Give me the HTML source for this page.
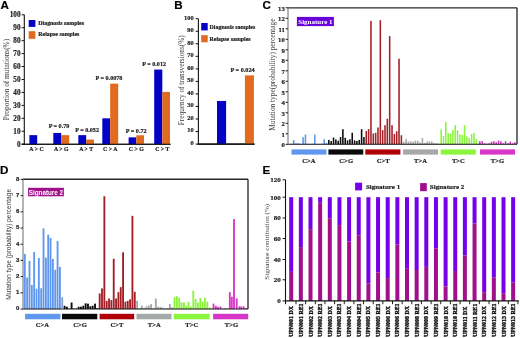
<!DOCTYPE html>
<html><head><meta charset="utf-8"><title>Figure</title>
<style>
html,body{margin:0;padding:0;background:#fff;}
body{width:520px;height:338px;overflow:hidden;font-family:"Liberation Serif", serif;}
svg{display:block;will-change:transform;filter:blur(0.35px);}
text{}
</style></head>
<body>
<svg width="520" height="338" viewBox="0 0 520 338" shape-rendering="auto">
<rect x="0" y="0" width="520" height="338" fill="#fff"/>
<text x="0.6" y="9.1" font-family='"Liberation Sans", sans-serif' font-size="11.6" font-weight="bold" text-anchor="start" fill="#000" stroke="#000" stroke-width="0.2">A</text>
<text x="174.3" y="9.4" font-family='"Liberation Sans", sans-serif' font-size="11.6" font-weight="bold" text-anchor="start" fill="#000" stroke="#000" stroke-width="0.2">B</text>
<text x="262.4" y="9.2" font-family='"Liberation Sans", sans-serif' font-size="11.6" font-weight="bold" text-anchor="start" fill="#000" stroke="#000" stroke-width="0.2">C</text>
<text x="-0.1" y="173.7" font-family='"Liberation Sans", sans-serif' font-size="11.6" font-weight="bold" text-anchor="start" fill="#000" stroke="#000" stroke-width="0.2">D</text>
<text x="262.4" y="173.7" font-family='"Liberation Sans", sans-serif' font-size="11.6" font-weight="bold" text-anchor="start" fill="#000" stroke="#000" stroke-width="0.2">E</text>
<line x1="24.3" y1="14.8" x2="24.3" y2="144.7" stroke="#111" stroke-width="1.1"/>
<line x1="21.8" y1="144.2" x2="170.5" y2="144.2" stroke="#111" stroke-width="1.1"/>
<line x1="21.6" y1="144.2" x2="24.3" y2="144.2" stroke="#111" stroke-width="1"/>
<text x="20.5" y="146.8" font-family='"Liberation Serif", serif' font-size="7.2" font-weight="bold" text-anchor="end" fill="#222" stroke="#222" stroke-width="0.2">0</text>
<line x1="21.6" y1="131.26" x2="24.3" y2="131.26" stroke="#111" stroke-width="1"/>
<text x="20.5" y="133.86" font-family='"Liberation Serif", serif' font-size="7.2" font-weight="bold" text-anchor="end" fill="#222" stroke="#222" stroke-width="0.2">10</text>
<line x1="21.6" y1="118.32" x2="24.3" y2="118.32" stroke="#111" stroke-width="1"/>
<text x="20.5" y="120.92" font-family='"Liberation Serif", serif' font-size="7.2" font-weight="bold" text-anchor="end" fill="#222" stroke="#222" stroke-width="0.2">20</text>
<line x1="21.6" y1="105.38" x2="24.3" y2="105.38" stroke="#111" stroke-width="1"/>
<text x="20.5" y="107.98" font-family='"Liberation Serif", serif' font-size="7.2" font-weight="bold" text-anchor="end" fill="#222" stroke="#222" stroke-width="0.2">30</text>
<line x1="21.6" y1="92.44" x2="24.3" y2="92.44" stroke="#111" stroke-width="1"/>
<text x="20.5" y="95.04" font-family='"Liberation Serif", serif' font-size="7.2" font-weight="bold" text-anchor="end" fill="#222" stroke="#222" stroke-width="0.2">40</text>
<line x1="21.6" y1="79.5" x2="24.3" y2="79.5" stroke="#111" stroke-width="1"/>
<text x="20.5" y="82.1" font-family='"Liberation Serif", serif' font-size="7.2" font-weight="bold" text-anchor="end" fill="#222" stroke="#222" stroke-width="0.2">50</text>
<line x1="21.6" y1="66.56" x2="24.3" y2="66.56" stroke="#111" stroke-width="1"/>
<text x="20.5" y="69.16" font-family='"Liberation Serif", serif' font-size="7.2" font-weight="bold" text-anchor="end" fill="#222" stroke="#222" stroke-width="0.2">60</text>
<line x1="21.6" y1="53.62" x2="24.3" y2="53.62" stroke="#111" stroke-width="1"/>
<text x="20.5" y="56.22" font-family='"Liberation Serif", serif' font-size="7.2" font-weight="bold" text-anchor="end" fill="#222" stroke="#222" stroke-width="0.2">70</text>
<line x1="21.6" y1="40.68" x2="24.3" y2="40.68" stroke="#111" stroke-width="1"/>
<text x="20.5" y="43.28" font-family='"Liberation Serif", serif' font-size="7.2" font-weight="bold" text-anchor="end" fill="#222" stroke="#222" stroke-width="0.2">80</text>
<line x1="21.6" y1="27.74" x2="24.3" y2="27.74" stroke="#111" stroke-width="1"/>
<text x="20.5" y="30.34" font-family='"Liberation Serif", serif' font-size="7.2" font-weight="bold" text-anchor="end" fill="#222" stroke="#222" stroke-width="0.2">90</text>
<line x1="21.6" y1="14.8" x2="24.3" y2="14.8" stroke="#111" stroke-width="1"/>
<text x="20.5" y="17.4" font-family='"Liberation Serif", serif' font-size="7.2" font-weight="bold" text-anchor="end" fill="#222" stroke="#222" stroke-width="0.2">100</text>
<text x="8.5" y="79.5" font-family='"Liberation Serif", serif' font-size="7.37" font-weight="normal" text-anchor="middle" fill="#3c3c3c" transform="rotate(-90 8.5 79.5)">Proportion of mutations(%)</text>
<rect x="29.4" y="135.14" width="7.8" height="9.06" fill="#0303c6"/>
<text x="36.5" y="150.9" font-family='"Liberation Serif", serif' font-size="5.8" font-weight="bold" text-anchor="middle" fill="#222" stroke="#222" stroke-width="0.2">A &gt; C</text>
<rect x="53.3" y="132.94" width="7.9" height="11.26" fill="#0303c6"/>
<rect x="61.2" y="135.14" width="8" height="9.06" fill="#e06a1e"/>
<text x="61.2" y="150.9" font-family='"Liberation Serif", serif' font-size="5.8" font-weight="bold" text-anchor="middle" fill="#222" stroke="#222" stroke-width="0.2">A &gt; G</text>
<rect x="78.3" y="135.14" width="7.9" height="9.06" fill="#0303c6"/>
<rect x="86.2" y="139.54" width="7.8" height="4.66" fill="#e06a1e"/>
<text x="86.2" y="150.9" font-family='"Liberation Serif", serif' font-size="5.8" font-weight="bold" text-anchor="middle" fill="#222" stroke="#222" stroke-width="0.2">A &gt; T</text>
<rect x="102.3" y="118.32" width="7.9" height="25.88" fill="#0303c6"/>
<rect x="110.2" y="83.64" width="8" height="60.56" fill="#e06a1e"/>
<text x="110.2" y="150.9" font-family='"Liberation Serif", serif' font-size="5.8" font-weight="bold" text-anchor="middle" fill="#222" stroke="#222" stroke-width="0.2">C &gt; A</text>
<rect x="128.6" y="137.34" width="7.7" height="6.86" fill="#0303c6"/>
<rect x="136.3" y="135.27" width="7.7" height="8.93" fill="#e06a1e"/>
<text x="136.3" y="150.9" font-family='"Liberation Serif", serif' font-size="5.8" font-weight="bold" text-anchor="middle" fill="#222" stroke="#222" stroke-width="0.2">C &gt; G</text>
<rect x="154.2" y="69.54" width="8.1" height="74.66" fill="#0303c6"/>
<rect x="162.3" y="91.92" width="7.7" height="52.28" fill="#e06a1e"/>
<text x="162.3" y="150.9" font-family='"Liberation Serif", serif' font-size="5.8" font-weight="bold" text-anchor="middle" fill="#222" stroke="#222" stroke-width="0.2">C &gt; T</text>
<line x1="21.8" y1="144.2" x2="170.5" y2="144.2" stroke="#111" stroke-width="1.1"/>
<text x="59" y="127.85" font-family='"Liberation Serif", serif' font-size="6.15" font-weight="bold" text-anchor="middle" fill="#222" stroke="#222" stroke-width="0.2">P = 0.79</text>
<text x="87.1" y="131.95" font-family='"Liberation Serif", serif' font-size="6.15" font-weight="bold" text-anchor="middle" fill="#222" stroke="#222" stroke-width="0.2">P = 0.052</text>
<text x="109" y="79.55" font-family='"Liberation Serif", serif' font-size="6.15" font-weight="bold" text-anchor="middle" fill="#222" stroke="#222" stroke-width="0.2">P = 0.0078</text>
<text x="136.2" y="132.55" font-family='"Liberation Serif", serif' font-size="6.15" font-weight="bold" text-anchor="middle" fill="#222" stroke="#222" stroke-width="0.2">P = 0.72</text>
<text x="154.2" y="66.35" font-family='"Liberation Serif", serif' font-size="6.15" font-weight="bold" text-anchor="middle" fill="#222" stroke="#222" stroke-width="0.2">P = 0.012</text>
<rect x="28.7" y="20" width="6.7" height="6.9" fill="#0303c6"/>
<rect x="28.7" y="31.2" width="6.7" height="7.6" fill="#e06a1e"/>
<text x="38.3" y="25.1" font-family='"Liberation Serif", serif' font-size="5.9" font-weight="bold" text-anchor="start" fill="#222" stroke="#222" stroke-width="0.2">Diagnosis samples</text>
<text x="38.3" y="36.1" font-family='"Liberation Serif", serif' font-size="5.9" font-weight="bold" text-anchor="start" fill="#222" stroke="#222" stroke-width="0.2">Relapse samples</text>
<line x1="198.4" y1="18.7" x2="198.4" y2="144.6" stroke="#111" stroke-width="1.1"/>
<line x1="197.9" y1="144.1" x2="254.5" y2="144.1" stroke="#111" stroke-width="1.1"/>
<line x1="195.6" y1="144.1" x2="198.4" y2="144.1" stroke="#111" stroke-width="1"/>
<text x="193.6" y="145" font-family='"Liberation Serif", serif' font-size="6.4" font-weight="bold" text-anchor="end" fill="#222" stroke="#222" stroke-width="0.2">0</text>
<line x1="195.6" y1="131.56" x2="198.4" y2="131.56" stroke="#111" stroke-width="1"/>
<text x="193.6" y="132.46" font-family='"Liberation Serif", serif' font-size="6.4" font-weight="bold" text-anchor="end" fill="#222" stroke="#222" stroke-width="0.2">10</text>
<line x1="195.6" y1="119.02" x2="198.4" y2="119.02" stroke="#111" stroke-width="1"/>
<text x="193.6" y="119.92" font-family='"Liberation Serif", serif' font-size="6.4" font-weight="bold" text-anchor="end" fill="#222" stroke="#222" stroke-width="0.2">20</text>
<line x1="195.6" y1="106.48" x2="198.4" y2="106.48" stroke="#111" stroke-width="1"/>
<text x="193.6" y="107.38" font-family='"Liberation Serif", serif' font-size="6.4" font-weight="bold" text-anchor="end" fill="#222" stroke="#222" stroke-width="0.2">30</text>
<line x1="195.6" y1="93.94" x2="198.4" y2="93.94" stroke="#111" stroke-width="1"/>
<text x="193.6" y="94.84" font-family='"Liberation Serif", serif' font-size="6.4" font-weight="bold" text-anchor="end" fill="#222" stroke="#222" stroke-width="0.2">40</text>
<line x1="195.6" y1="81.4" x2="198.4" y2="81.4" stroke="#111" stroke-width="1"/>
<text x="193.6" y="82.3" font-family='"Liberation Serif", serif' font-size="6.4" font-weight="bold" text-anchor="end" fill="#222" stroke="#222" stroke-width="0.2">50</text>
<line x1="195.6" y1="68.86" x2="198.4" y2="68.86" stroke="#111" stroke-width="1"/>
<text x="193.6" y="69.76" font-family='"Liberation Serif", serif' font-size="6.4" font-weight="bold" text-anchor="end" fill="#222" stroke="#222" stroke-width="0.2">60</text>
<line x1="195.6" y1="56.32" x2="198.4" y2="56.32" stroke="#111" stroke-width="1"/>
<text x="193.6" y="57.22" font-family='"Liberation Serif", serif' font-size="6.4" font-weight="bold" text-anchor="end" fill="#222" stroke="#222" stroke-width="0.2">70</text>
<line x1="195.6" y1="43.78" x2="198.4" y2="43.78" stroke="#111" stroke-width="1"/>
<text x="193.6" y="44.68" font-family='"Liberation Serif", serif' font-size="6.4" font-weight="bold" text-anchor="end" fill="#222" stroke="#222" stroke-width="0.2">80</text>
<line x1="195.6" y1="31.24" x2="198.4" y2="31.24" stroke="#111" stroke-width="1"/>
<text x="193.6" y="32.14" font-family='"Liberation Serif", serif' font-size="6.4" font-weight="bold" text-anchor="end" fill="#222" stroke="#222" stroke-width="0.2">90</text>
<line x1="195.6" y1="18.7" x2="198.4" y2="18.7" stroke="#111" stroke-width="1"/>
<text x="193.6" y="19.6" font-family='"Liberation Serif", serif' font-size="6.4" font-weight="bold" text-anchor="end" fill="#222" stroke="#222" stroke-width="0.2">100</text>
<text x="184.4" y="80.2" font-family='"Liberation Serif", serif' font-size="7.3" font-weight="normal" text-anchor="middle" fill="#3c3c3c" transform="rotate(-90 184.4 80.2)">Frequency of transversions(%)</text>
<rect x="217" y="100.96" width="9.1" height="43.14" fill="#0303c6"/>
<rect x="244.9" y="75.38" width="9" height="68.72" fill="#e06a1e"/>
<line x1="197.9" y1="144.1" x2="254.5" y2="144.1" stroke="#111" stroke-width="1.1"/>
<text x="242.6" y="72" font-family='"Liberation Serif", serif' font-size="6.2" font-weight="bold" text-anchor="middle" fill="#222" stroke="#222" stroke-width="0.2">P = 0.024</text>
<rect x="201.2" y="23" width="6.5" height="7.4" fill="#0303c6"/>
<rect x="201.2" y="35.2" width="6.5" height="7.1" fill="#e06a1e"/>
<text x="209.6" y="28.6" font-family='"Liberation Serif", serif' font-size="5.9" font-weight="bold" text-anchor="start" fill="#222" stroke="#222" stroke-width="0.2">Diagnosis samples</text>
<text x="209.6" y="40.6" font-family='"Liberation Serif", serif' font-size="5.9" font-weight="bold" text-anchor="start" fill="#222" stroke="#222" stroke-width="0.2">Relapse samples</text>
<rect x="290.62" y="143.78" width="1.55" height="0.53" fill="#5f97ee"/>
<rect x="292.96" y="140.1" width="1.55" height="4.2" fill="#5f97ee"/>
<rect x="295.31" y="143.25" width="1.55" height="1.05" fill="#5f97ee"/>
<rect x="297.64" y="143.25" width="1.55" height="1.05" fill="#5f97ee"/>
<rect x="299.99" y="143.99" width="1.55" height="0.31" fill="#5f97ee"/>
<rect x="302.32" y="137.16" width="1.55" height="7.14" fill="#5f97ee"/>
<rect x="304.67" y="134.54" width="1.55" height="9.76" fill="#5f97ee"/>
<rect x="307" y="143.78" width="1.55" height="0.53" fill="#5f97ee"/>
<rect x="309.35" y="143.99" width="1.55" height="0.31" fill="#5f97ee"/>
<rect x="311.69" y="143.78" width="1.55" height="0.53" fill="#5f97ee"/>
<rect x="314.02" y="134.54" width="1.55" height="9.76" fill="#5f97ee"/>
<rect x="316.37" y="143.99" width="1.55" height="0.31" fill="#5f97ee"/>
<rect x="318.7" y="143.99" width="1.55" height="0.31" fill="#5f97ee"/>
<rect x="321.05" y="143.78" width="1.55" height="0.53" fill="#5f97ee"/>
<rect x="323.38" y="139.26" width="1.55" height="5.04" fill="#5f97ee"/>
<rect x="325.73" y="143.04" width="1.55" height="1.26" fill="#5f97ee"/>
<rect x="328.06" y="139.89" width="1.55" height="4.41" fill="#0a0a0a"/>
<rect x="330.4" y="141.15" width="1.55" height="3.15" fill="#0a0a0a"/>
<rect x="332.75" y="137.58" width="1.55" height="6.72" fill="#0a0a0a"/>
<rect x="335.08" y="139.47" width="1.55" height="4.83" fill="#0a0a0a"/>
<rect x="337.43" y="140.73" width="1.55" height="3.57" fill="#0a0a0a"/>
<rect x="339.76" y="137.06" width="1.55" height="7.25" fill="#0a0a0a"/>
<rect x="342.11" y="129.18" width="1.55" height="15.12" fill="#0a0a0a"/>
<rect x="344.44" y="137.79" width="1.55" height="6.51" fill="#0a0a0a"/>
<rect x="346.78" y="140.31" width="1.55" height="3.99" fill="#0a0a0a"/>
<rect x="349.12" y="139.26" width="1.55" height="5.04" fill="#0a0a0a"/>
<rect x="351.46" y="132.75" width="1.55" height="11.55" fill="#0a0a0a"/>
<rect x="353.81" y="140.31" width="1.55" height="3.99" fill="#0a0a0a"/>
<rect x="356.14" y="140.94" width="1.55" height="3.36" fill="#0a0a0a"/>
<rect x="358.49" y="139.89" width="1.55" height="4.41" fill="#0a0a0a"/>
<rect x="360.82" y="129.18" width="1.55" height="15.12" fill="#0a0a0a"/>
<rect x="363.16" y="137.06" width="1.55" height="7.25" fill="#0a0a0a"/>
<rect x="365.5" y="130.97" width="1.55" height="13.34" fill="#a41e26"/>
<rect x="367.84" y="129.08" width="1.55" height="15.22" fill="#a41e26"/>
<rect x="370.19" y="20.93" width="1.55" height="123.38" fill="#a41e26"/>
<rect x="372.52" y="133.49" width="1.55" height="10.81" fill="#a41e26"/>
<rect x="374.87" y="132.75" width="1.55" height="11.55" fill="#a41e26"/>
<rect x="377.2" y="127.5" width="1.55" height="16.8" fill="#a41e26"/>
<rect x="379.55" y="20.19" width="1.55" height="124.11" fill="#a41e26"/>
<rect x="381.88" y="130.12" width="1.55" height="14.18" fill="#a41e26"/>
<rect x="384.23" y="125.19" width="1.55" height="19.11" fill="#a41e26"/>
<rect x="386.56" y="118.79" width="1.55" height="25.52" fill="#a41e26"/>
<rect x="388.9" y="36.15" width="1.55" height="108.15" fill="#a41e26"/>
<rect x="391.25" y="125.19" width="1.55" height="19.11" fill="#a41e26"/>
<rect x="393.58" y="134.01" width="1.55" height="10.29" fill="#a41e26"/>
<rect x="395.93" y="131.28" width="1.55" height="13.02" fill="#a41e26"/>
<rect x="398.26" y="58.73" width="1.55" height="85.58" fill="#a41e26"/>
<rect x="400.61" y="135.27" width="1.55" height="9.03" fill="#a41e26"/>
<rect x="402.94" y="141.57" width="1.55" height="2.73" fill="#a6a9a9"/>
<rect x="405.28" y="139.05" width="1.55" height="5.25" fill="#a6a9a9"/>
<rect x="407.62" y="141.36" width="1.55" height="2.94" fill="#a6a9a9"/>
<rect x="409.96" y="141.36" width="1.55" height="2.94" fill="#a6a9a9"/>
<rect x="412.31" y="141.57" width="1.55" height="2.73" fill="#a6a9a9"/>
<rect x="414.64" y="140.52" width="1.55" height="3.78" fill="#a6a9a9"/>
<rect x="416.99" y="140.73" width="1.55" height="3.57" fill="#a6a9a9"/>
<rect x="419.32" y="142.52" width="1.55" height="1.78" fill="#a6a9a9"/>
<rect x="421.66" y="138" width="1.55" height="6.3" fill="#a6a9a9"/>
<rect x="424" y="143.04" width="1.55" height="1.26" fill="#a6a9a9"/>
<rect x="426.34" y="141.47" width="1.55" height="2.84" fill="#a6a9a9"/>
<rect x="428.69" y="141.47" width="1.55" height="2.84" fill="#a6a9a9"/>
<rect x="431.02" y="141.47" width="1.55" height="2.84" fill="#a6a9a9"/>
<rect x="433.37" y="143.04" width="1.55" height="1.26" fill="#a6a9a9"/>
<rect x="435.7" y="143.25" width="1.55" height="1.05" fill="#a6a9a9"/>
<rect x="438.04" y="143.78" width="1.55" height="0.53" fill="#a6a9a9"/>
<rect x="440.38" y="129.29" width="1.55" height="15.01" fill="#8af53c"/>
<rect x="442.72" y="135.9" width="1.55" height="8.4" fill="#8af53c"/>
<rect x="445.06" y="121.94" width="1.55" height="22.36" fill="#8af53c"/>
<rect x="447.4" y="133.17" width="1.55" height="11.13" fill="#8af53c"/>
<rect x="449.75" y="133.49" width="1.55" height="10.81" fill="#8af53c"/>
<rect x="452.08" y="129.92" width="1.55" height="14.38" fill="#8af53c"/>
<rect x="454.43" y="125.09" width="1.55" height="19.22" fill="#8af53c"/>
<rect x="456.76" y="130.44" width="1.55" height="13.86" fill="#8af53c"/>
<rect x="459.11" y="134.54" width="1.55" height="9.76" fill="#8af53c"/>
<rect x="461.44" y="134.96" width="1.55" height="9.34" fill="#8af53c"/>
<rect x="463.78" y="125.09" width="1.55" height="19.22" fill="#8af53c"/>
<rect x="466.12" y="136.32" width="1.55" height="7.98" fill="#8af53c"/>
<rect x="468.46" y="138.21" width="1.55" height="6.09" fill="#8af53c"/>
<rect x="470.81" y="134.01" width="1.55" height="10.29" fill="#8af53c"/>
<rect x="473.14" y="133.17" width="1.55" height="11.13" fill="#8af53c"/>
<rect x="475.49" y="139.05" width="1.55" height="5.25" fill="#8af53c"/>
<rect x="479.02" y="141.15" width="1.55" height="3.15" fill="#d836c8"/>
<rect x="481.36" y="141.15" width="1.55" height="3.15" fill="#d836c8"/>
<rect x="483.7" y="143.25" width="1.55" height="1.05" fill="#d836c8"/>
<rect x="486.04" y="143.78" width="1.55" height="0.53" fill="#d836c8"/>
<rect x="488.38" y="143.25" width="1.55" height="1.05" fill="#d836c8"/>
<rect x="490.72" y="141.68" width="1.55" height="2.62" fill="#d836c8"/>
<rect x="493.06" y="141.15" width="1.55" height="3.15" fill="#d836c8"/>
<rect x="495.4" y="142.2" width="1.55" height="2.1" fill="#d836c8"/>
<rect x="497.75" y="140.62" width="1.55" height="3.68" fill="#d836c8"/>
<rect x="500.08" y="141.15" width="1.55" height="3.15" fill="#d836c8"/>
<rect x="502.42" y="143.25" width="1.55" height="1.05" fill="#d836c8"/>
<rect x="504.76" y="141.15" width="1.55" height="3.15" fill="#d836c8"/>
<rect x="507.1" y="143.25" width="1.55" height="1.05" fill="#d836c8"/>
<rect x="509.44" y="141.68" width="1.55" height="2.62" fill="#d836c8"/>
<rect x="511.78" y="143.25" width="1.55" height="1.05" fill="#d836c8"/>
<rect x="514.12" y="142.2" width="1.55" height="2.1" fill="#d836c8"/>
<line x1="288" y1="7.8" x2="517" y2="7.8" stroke="#2a2a2a" stroke-width="1.35"/>
<line x1="517" y1="7.8" x2="517" y2="144.3" stroke="#2a2a2a" stroke-width="1.35"/>
<line x1="288" y1="144.3" x2="517" y2="144.3" stroke="#111" stroke-width="1.1"/>
<line x1="288" y1="7.3" x2="288" y2="144.8" stroke="#777" stroke-width="1.1"/>
<line x1="285.6" y1="144.3" x2="288" y2="144.3" stroke="#222" stroke-width="1"/>
<text x="284.8" y="147.2" font-family='"Liberation Serif", serif' font-size="6.7" font-weight="bold" text-anchor="end" fill="#222" stroke="#222" stroke-width="0.2">0</text>
<line x1="285.6" y1="133.8" x2="288" y2="133.8" stroke="#222" stroke-width="1"/>
<text x="284.8" y="136.7" font-family='"Liberation Serif", serif' font-size="6.7" font-weight="bold" text-anchor="end" fill="#222" stroke="#222" stroke-width="0.2">1</text>
<line x1="285.6" y1="123.3" x2="288" y2="123.3" stroke="#222" stroke-width="1"/>
<text x="284.8" y="126.2" font-family='"Liberation Serif", serif' font-size="6.7" font-weight="bold" text-anchor="end" fill="#222" stroke="#222" stroke-width="0.2">2</text>
<line x1="285.6" y1="112.8" x2="288" y2="112.8" stroke="#222" stroke-width="1"/>
<text x="284.8" y="115.7" font-family='"Liberation Serif", serif' font-size="6.7" font-weight="bold" text-anchor="end" fill="#222" stroke="#222" stroke-width="0.2">3</text>
<line x1="285.6" y1="102.3" x2="288" y2="102.3" stroke="#222" stroke-width="1"/>
<text x="284.8" y="105.2" font-family='"Liberation Serif", serif' font-size="6.7" font-weight="bold" text-anchor="end" fill="#222" stroke="#222" stroke-width="0.2">4</text>
<line x1="285.6" y1="91.8" x2="288" y2="91.8" stroke="#222" stroke-width="1"/>
<text x="284.8" y="94.7" font-family='"Liberation Serif", serif' font-size="6.7" font-weight="bold" text-anchor="end" fill="#222" stroke="#222" stroke-width="0.2">5</text>
<line x1="285.6" y1="81.3" x2="288" y2="81.3" stroke="#222" stroke-width="1"/>
<text x="284.8" y="84.2" font-family='"Liberation Serif", serif' font-size="6.7" font-weight="bold" text-anchor="end" fill="#222" stroke="#222" stroke-width="0.2">6</text>
<line x1="285.6" y1="70.8" x2="288" y2="70.8" stroke="#222" stroke-width="1"/>
<text x="284.8" y="73.7" font-family='"Liberation Serif", serif' font-size="6.7" font-weight="bold" text-anchor="end" fill="#222" stroke="#222" stroke-width="0.2">7</text>
<line x1="285.6" y1="60.3" x2="288" y2="60.3" stroke="#222" stroke-width="1"/>
<text x="284.8" y="63.2" font-family='"Liberation Serif", serif' font-size="6.7" font-weight="bold" text-anchor="end" fill="#222" stroke="#222" stroke-width="0.2">8</text>
<line x1="285.6" y1="49.8" x2="288" y2="49.8" stroke="#222" stroke-width="1"/>
<text x="284.8" y="52.7" font-family='"Liberation Serif", serif' font-size="6.7" font-weight="bold" text-anchor="end" fill="#222" stroke="#222" stroke-width="0.2">9</text>
<line x1="285.6" y1="39.3" x2="288" y2="39.3" stroke="#222" stroke-width="1"/>
<text x="284.8" y="42.2" font-family='"Liberation Serif", serif' font-size="6.7" font-weight="bold" text-anchor="end" fill="#222" stroke="#222" stroke-width="0.2">10</text>
<line x1="285.6" y1="28.8" x2="288" y2="28.8" stroke="#222" stroke-width="1"/>
<text x="284.8" y="31.7" font-family='"Liberation Serif", serif' font-size="6.7" font-weight="bold" text-anchor="end" fill="#222" stroke="#222" stroke-width="0.2">11</text>
<line x1="285.6" y1="18.3" x2="288" y2="18.3" stroke="#222" stroke-width="1"/>
<text x="284.8" y="21.2" font-family='"Liberation Serif", serif' font-size="6.7" font-weight="bold" text-anchor="end" fill="#222" stroke="#222" stroke-width="0.2">12</text>
<line x1="285.6" y1="7.8" x2="288" y2="7.8" stroke="#222" stroke-width="1"/>
<text x="284.8" y="10.7" font-family='"Liberation Serif", serif' font-size="6.7" font-weight="bold" text-anchor="end" fill="#222" stroke="#222" stroke-width="0.2">13</text>
<rect x="291.5" y="149.4" width="35" height="5.2" fill="#5f97ee"/>
<text x="308.8" y="163.3" font-family='"Liberation Serif", serif' font-size="6.6" font-weight="bold" text-anchor="middle" fill="#222" stroke="#222" stroke-width="0.2">C&gt;A</text>
<rect x="328.4" y="149.4" width="34.8" height="5.2" fill="#0a0a0a"/>
<text x="346.2" y="163.3" font-family='"Liberation Serif", serif' font-size="6.6" font-weight="bold" text-anchor="middle" fill="#222" stroke="#222" stroke-width="0.2">C&gt;G</text>
<rect x="365.3" y="149.4" width="35.1" height="5.2" fill="#b00008"/>
<text x="383.1" y="163.3" font-family='"Liberation Serif", serif' font-size="6.6" font-weight="bold" text-anchor="middle" fill="#222" stroke="#222" stroke-width="0.2">C&gt;T</text>
<rect x="403" y="149.4" width="35" height="5.2" fill="#a6a9a9"/>
<text x="420.5" y="163.3" font-family='"Liberation Serif", serif' font-size="6.6" font-weight="bold" text-anchor="middle" fill="#222" stroke="#222" stroke-width="0.2">T&gt;A</text>
<rect x="440.7" y="149.4" width="35.1" height="5.2" fill="#8af53c"/>
<text x="458.4" y="163.3" font-family='"Liberation Serif", serif' font-size="6.6" font-weight="bold" text-anchor="middle" fill="#222" stroke="#222" stroke-width="0.2">T&gt;C</text>
<rect x="480" y="149.4" width="35" height="5.2" fill="#d836c8"/>
<text x="497.5" y="163.3" font-family='"Liberation Serif", serif' font-size="6.6" font-weight="bold" text-anchor="middle" fill="#222" stroke="#222" stroke-width="0.2">T&gt;G</text>
<rect x="296.9" y="16.9" width="37" height="9.2" fill="#6a00dc"/>
<text x="315.4" y="24.2" font-family='"Liberation Serif", serif' font-size="7" font-weight="bold" text-anchor="middle" fill="#fff">Signature 1</text>
<text x="275.1" y="74.6" font-family='"Liberation Serif", serif' font-size="7.35" font-weight="normal" text-anchor="middle" fill="#3c3c3c" transform="rotate(-90 275.1 74.6)">Mutation type(probability) percentage</text>
<rect x="23.88" y="253.92" width="1.85" height="55.08" fill="#5f97ee"/>
<rect x="26.21" y="277.57" width="1.85" height="31.43" fill="#5f97ee"/>
<rect x="28.55" y="260.89" width="1.85" height="48.11" fill="#5f97ee"/>
<rect x="30.89" y="285.02" width="1.85" height="23.98" fill="#5f97ee"/>
<rect x="33.23" y="251.98" width="1.85" height="57.02" fill="#5f97ee"/>
<rect x="35.58" y="288.75" width="1.85" height="20.25" fill="#5f97ee"/>
<rect x="37.92" y="257.97" width="1.85" height="51.03" fill="#5f97ee"/>
<rect x="40.26" y="288.26" width="1.85" height="20.74" fill="#5f97ee"/>
<rect x="42.59" y="228.32" width="1.85" height="80.68" fill="#5f97ee"/>
<rect x="44.94" y="257.65" width="1.85" height="51.35" fill="#5f97ee"/>
<rect x="47.28" y="234.64" width="1.85" height="74.36" fill="#5f97ee"/>
<rect x="49.62" y="237.88" width="1.85" height="71.12" fill="#5f97ee"/>
<rect x="51.95" y="258.94" width="1.85" height="50.06" fill="#5f97ee"/>
<rect x="54.3" y="269.8" width="1.85" height="39.2" fill="#5f97ee"/>
<rect x="56.64" y="241.12" width="1.85" height="67.88" fill="#5f97ee"/>
<rect x="58.97" y="266.88" width="1.85" height="42.12" fill="#5f97ee"/>
<rect x="63.66" y="305.76" width="1.85" height="3.24" fill="#0a0a0a"/>
<rect x="65.99" y="306.73" width="1.85" height="2.27" fill="#0a0a0a"/>
<rect x="68.33" y="308.68" width="1.85" height="0.32" fill="#0a0a0a"/>
<rect x="70.67" y="302.52" width="1.85" height="6.48" fill="#0a0a0a"/>
<rect x="73.02" y="308.68" width="1.85" height="0.32" fill="#0a0a0a"/>
<rect x="75.36" y="308.68" width="1.85" height="0.32" fill="#0a0a0a"/>
<rect x="77.69" y="306.73" width="1.85" height="2.27" fill="#0a0a0a"/>
<rect x="80.03" y="306.73" width="1.85" height="2.27" fill="#0a0a0a"/>
<rect x="82.38" y="305.76" width="1.85" height="3.24" fill="#0a0a0a"/>
<rect x="84.71" y="303.33" width="1.85" height="5.67" fill="#0a0a0a"/>
<rect x="87.05" y="303.65" width="1.85" height="5.35" fill="#0a0a0a"/>
<rect x="89.39" y="306.25" width="1.85" height="2.75" fill="#0a0a0a"/>
<rect x="91.73" y="305.76" width="1.85" height="3.24" fill="#0a0a0a"/>
<rect x="94.08" y="303.65" width="1.85" height="5.35" fill="#0a0a0a"/>
<rect x="96.41" y="308.19" width="1.85" height="0.81" fill="#0a0a0a"/>
<rect x="98.75" y="293.45" width="1.85" height="15.55" fill="#a41e26"/>
<rect x="101.09" y="288.43" width="1.85" height="20.57" fill="#a41e26"/>
<rect x="103.43" y="196.25" width="1.85" height="112.75" fill="#a41e26"/>
<rect x="105.77" y="300.9" width="1.85" height="8.1" fill="#a41e26"/>
<rect x="108.11" y="298.47" width="1.85" height="10.53" fill="#a41e26"/>
<rect x="110.45" y="300.09" width="1.85" height="8.91" fill="#a41e26"/>
<rect x="112.8" y="258.78" width="1.85" height="50.22" fill="#a41e26"/>
<rect x="115.13" y="298.47" width="1.85" height="10.53" fill="#a41e26"/>
<rect x="117.47" y="292.15" width="1.85" height="16.85" fill="#a41e26"/>
<rect x="119.81" y="287.13" width="1.85" height="21.87" fill="#a41e26"/>
<rect x="122.15" y="252.3" width="1.85" height="56.7" fill="#a41e26"/>
<rect x="124.49" y="301.71" width="1.85" height="7.29" fill="#a41e26"/>
<rect x="126.83" y="300.9" width="1.85" height="8.1" fill="#a41e26"/>
<rect x="129.17" y="299.28" width="1.85" height="9.72" fill="#a41e26"/>
<rect x="131.51" y="215.85" width="1.85" height="93.15" fill="#a41e26"/>
<rect x="133.85" y="291.83" width="1.85" height="17.17" fill="#a41e26"/>
<rect x="136.19" y="300.9" width="1.85" height="8.1" fill="#a6a9a9"/>
<rect x="138.53" y="308.19" width="1.85" height="0.81" fill="#a6a9a9"/>
<rect x="140.88" y="305.76" width="1.85" height="3.24" fill="#a6a9a9"/>
<rect x="143.22" y="307.87" width="1.85" height="1.13" fill="#a6a9a9"/>
<rect x="145.56" y="306.25" width="1.85" height="2.75" fill="#a6a9a9"/>
<rect x="147.89" y="305.44" width="1.85" height="3.56" fill="#a6a9a9"/>
<rect x="150.23" y="303.98" width="1.85" height="5.02" fill="#a6a9a9"/>
<rect x="152.57" y="308.19" width="1.85" height="0.81" fill="#a6a9a9"/>
<rect x="154.91" y="298.47" width="1.85" height="10.53" fill="#a6a9a9"/>
<rect x="157.25" y="306.73" width="1.85" height="2.27" fill="#a6a9a9"/>
<rect x="159.59" y="307.06" width="1.85" height="1.94" fill="#a6a9a9"/>
<rect x="161.94" y="307.7" width="1.85" height="1.3" fill="#a6a9a9"/>
<rect x="164.27" y="308.68" width="1.85" height="0.32" fill="#a6a9a9"/>
<rect x="166.61" y="308.19" width="1.85" height="0.81" fill="#a6a9a9"/>
<rect x="168.95" y="303.98" width="1.85" height="5.02" fill="#a6a9a9"/>
<rect x="171.29" y="307.38" width="1.85" height="1.62" fill="#a6a9a9"/>
<rect x="173.63" y="297.17" width="1.85" height="11.83" fill="#8af53c"/>
<rect x="175.97" y="296.2" width="1.85" height="12.8" fill="#8af53c"/>
<rect x="178.31" y="297.66" width="1.85" height="11.34" fill="#8af53c"/>
<rect x="180.66" y="302.2" width="1.85" height="6.8" fill="#8af53c"/>
<rect x="183" y="302.52" width="1.85" height="6.48" fill="#8af53c"/>
<rect x="185.33" y="305.76" width="1.85" height="3.24" fill="#8af53c"/>
<rect x="187.67" y="301.71" width="1.85" height="7.29" fill="#8af53c"/>
<rect x="190.01" y="306.73" width="1.85" height="2.27" fill="#8af53c"/>
<rect x="192.35" y="290.69" width="1.85" height="18.31" fill="#8af53c"/>
<rect x="194.69" y="298.96" width="1.85" height="10.04" fill="#8af53c"/>
<rect x="197.03" y="302.52" width="1.85" height="6.48" fill="#8af53c"/>
<rect x="199.38" y="297.98" width="1.85" height="11.02" fill="#8af53c"/>
<rect x="201.71" y="301.71" width="1.85" height="7.29" fill="#8af53c"/>
<rect x="204.05" y="297.66" width="1.85" height="11.34" fill="#8af53c"/>
<rect x="206.39" y="301.71" width="1.85" height="7.29" fill="#8af53c"/>
<rect x="208.73" y="307.38" width="1.85" height="1.62" fill="#8af53c"/>
<rect x="212.57" y="303.65" width="1.85" height="5.35" fill="#d836c8"/>
<rect x="214.97" y="305.76" width="1.85" height="3.24" fill="#d836c8"/>
<rect x="217.17" y="307.06" width="1.85" height="1.94" fill="#d836c8"/>
<rect x="219.57" y="306.57" width="1.85" height="2.43" fill="#d836c8"/>
<rect x="222.07" y="308.68" width="1.85" height="0.32" fill="#d836c8"/>
<rect x="224.47" y="308.19" width="1.85" height="0.81" fill="#d836c8"/>
<rect x="226.57" y="308.68" width="1.85" height="0.32" fill="#d836c8"/>
<rect x="228.88" y="292.15" width="1.85" height="16.85" fill="#d836c8"/>
<rect x="230.88" y="296.69" width="1.85" height="12.31" fill="#d836c8"/>
<rect x="233.07" y="219.09" width="1.85" height="89.91" fill="#d836c8"/>
<rect x="235.77" y="298.47" width="1.85" height="10.53" fill="#d836c8"/>
<rect x="238.57" y="306.25" width="1.85" height="2.75" fill="#d836c8"/>
<rect x="240.38" y="306.73" width="1.85" height="2.27" fill="#d836c8"/>
<rect x="242.67" y="306.25" width="1.85" height="2.75" fill="#d836c8"/>
<rect x="244.97" y="308.19" width="1.85" height="0.81" fill="#d836c8"/>
<line x1="23" y1="179.2" x2="248" y2="179.2" stroke="#2a2a2a" stroke-width="1.35"/>
<line x1="248" y1="179.2" x2="248" y2="309" stroke="#2a2a2a" stroke-width="1.35"/>
<line x1="23" y1="309" x2="248" y2="309" stroke="#111" stroke-width="1.1"/>
<line x1="23" y1="178.7" x2="23" y2="309.5" stroke="#777" stroke-width="1.1"/>
<line x1="20.6" y1="309" x2="23" y2="309" stroke="#222" stroke-width="1"/>
<text x="19.4" y="310.3" font-family='"Liberation Sans", sans-serif' font-size="6" font-weight="bold" text-anchor="end" fill="#222" stroke="#222" stroke-width="0.2">0</text>
<line x1="20.6" y1="292.8" x2="23" y2="292.8" stroke="#222" stroke-width="1"/>
<text x="19.4" y="294.1" font-family='"Liberation Sans", sans-serif' font-size="6" font-weight="bold" text-anchor="end" fill="#222" stroke="#222" stroke-width="0.2">1</text>
<line x1="20.6" y1="276.6" x2="23" y2="276.6" stroke="#222" stroke-width="1"/>
<text x="19.4" y="277.9" font-family='"Liberation Sans", sans-serif' font-size="6" font-weight="bold" text-anchor="end" fill="#222" stroke="#222" stroke-width="0.2">2</text>
<line x1="20.6" y1="260.4" x2="23" y2="260.4" stroke="#222" stroke-width="1"/>
<text x="19.4" y="261.7" font-family='"Liberation Sans", sans-serif' font-size="6" font-weight="bold" text-anchor="end" fill="#222" stroke="#222" stroke-width="0.2">3</text>
<line x1="20.6" y1="244.2" x2="23" y2="244.2" stroke="#222" stroke-width="1"/>
<text x="19.4" y="245.5" font-family='"Liberation Sans", sans-serif' font-size="6" font-weight="bold" text-anchor="end" fill="#222" stroke="#222" stroke-width="0.2">4</text>
<line x1="20.6" y1="228" x2="23" y2="228" stroke="#222" stroke-width="1"/>
<text x="19.4" y="229.3" font-family='"Liberation Sans", sans-serif' font-size="6" font-weight="bold" text-anchor="end" fill="#222" stroke="#222" stroke-width="0.2">5</text>
<line x1="20.6" y1="211.8" x2="23" y2="211.8" stroke="#222" stroke-width="1"/>
<text x="19.4" y="213.1" font-family='"Liberation Sans", sans-serif' font-size="6" font-weight="bold" text-anchor="end" fill="#222" stroke="#222" stroke-width="0.2">6</text>
<line x1="20.6" y1="195.6" x2="23" y2="195.6" stroke="#222" stroke-width="1"/>
<text x="19.4" y="196.9" font-family='"Liberation Sans", sans-serif' font-size="6" font-weight="bold" text-anchor="end" fill="#222" stroke="#222" stroke-width="0.2">7</text>
<line x1="20.6" y1="179.4" x2="23" y2="179.4" stroke="#222" stroke-width="1"/>
<text x="19.4" y="180.7" font-family='"Liberation Sans", sans-serif' font-size="6" font-weight="bold" text-anchor="end" fill="#222" stroke="#222" stroke-width="0.2">8</text>
<rect x="25.1" y="313.8" width="35.3" height="5.5" fill="#5f97ee"/>
<text x="42.4" y="327.4" font-family='"Liberation Serif", serif' font-size="6.6" font-weight="bold" text-anchor="middle" fill="#222" stroke="#222" stroke-width="0.2">C&gt;A</text>
<rect x="62" y="313.8" width="35.3" height="5.5" fill="#0a0a0a"/>
<text x="80" y="327.4" font-family='"Liberation Serif", serif' font-size="6.6" font-weight="bold" text-anchor="middle" fill="#222" stroke="#222" stroke-width="0.2">C&gt;G</text>
<rect x="99.6" y="313.8" width="34.6" height="5.5" fill="#b00008"/>
<text x="117" y="327.4" font-family='"Liberation Serif", serif' font-size="6.6" font-weight="bold" text-anchor="middle" fill="#222" stroke="#222" stroke-width="0.2">C&gt;T</text>
<rect x="136.5" y="313.8" width="35" height="5.5" fill="#a6a9a9"/>
<text x="154.2" y="327.4" font-family='"Liberation Serif", serif' font-size="6.6" font-weight="bold" text-anchor="middle" fill="#222" stroke="#222" stroke-width="0.2">T&gt;A</text>
<rect x="173.8" y="313.8" width="35.8" height="5.5" fill="#8af53c"/>
<text x="191.8" y="327.4" font-family='"Liberation Serif", serif' font-size="6.6" font-weight="bold" text-anchor="middle" fill="#222" stroke="#222" stroke-width="0.2">T&gt;C</text>
<rect x="213.1" y="313.8" width="35.1" height="5.5" fill="#d836c8"/>
<text x="231.5" y="327.4" font-family='"Liberation Serif", serif' font-size="6.6" font-weight="bold" text-anchor="middle" fill="#222" stroke="#222" stroke-width="0.2">T&gt;G</text>
<rect x="61.34" y="297.17" width="1.8" height="11.33" fill="#8c9cc0"/>
<rect x="28.1" y="187.8" width="35.8" height="8.5" fill="#a0108c"/>
<text x="45.9" y="194.8" font-family='"Liberation Sans", sans-serif' font-size="6.3" font-weight="bold" text-anchor="middle" fill="#fff">Signature 2</text>
<text x="10.8" y="244.3" font-family='"Liberation Sans", sans-serif' font-size="6.6" font-weight="normal" text-anchor="middle" fill="#3c3c3c" transform="rotate(-90 10.8 244.3)">Mutation type (probability) percentage</text>
<line x1="285.5" y1="179.8" x2="285.5" y2="304.2" stroke="#111" stroke-width="1.1"/>
<line x1="282.6" y1="179.8" x2="285.5" y2="179.8" stroke="#111" stroke-width="1"/>
<text x="280.7" y="182.2" font-family='"Liberation Serif", serif' font-size="7" font-weight="bold" text-anchor="end" fill="#222" stroke="#222" stroke-width="0.2">120</text>
<line x1="282.6" y1="197.2" x2="285.5" y2="197.2" stroke="#111" stroke-width="1"/>
<text x="280.7" y="199.6" font-family='"Liberation Serif", serif' font-size="7" font-weight="bold" text-anchor="end" fill="#222" stroke="#222" stroke-width="0.2">100</text>
<line x1="282.6" y1="218" x2="285.5" y2="218" stroke="#111" stroke-width="1"/>
<text x="280.7" y="220.4" font-family='"Liberation Serif", serif' font-size="7" font-weight="bold" text-anchor="end" fill="#222" stroke="#222" stroke-width="0.2">80</text>
<line x1="282.6" y1="238.5" x2="285.5" y2="238.5" stroke="#111" stroke-width="1"/>
<text x="280.7" y="240.9" font-family='"Liberation Serif", serif' font-size="7" font-weight="bold" text-anchor="end" fill="#222" stroke="#222" stroke-width="0.2">60</text>
<line x1="282.6" y1="259.5" x2="285.5" y2="259.5" stroke="#111" stroke-width="1"/>
<text x="280.7" y="261.9" font-family='"Liberation Serif", serif' font-size="7" font-weight="bold" text-anchor="end" fill="#222" stroke="#222" stroke-width="0.2">40</text>
<line x1="282.6" y1="279.8" x2="285.5" y2="279.8" stroke="#111" stroke-width="1"/>
<text x="280.7" y="282.2" font-family='"Liberation Serif", serif' font-size="7" font-weight="bold" text-anchor="end" fill="#222" stroke="#222" stroke-width="0.2">20</text>
<line x1="282.6" y1="300.9" x2="285.5" y2="300.9" stroke="#111" stroke-width="1"/>
<text x="280.7" y="303.3" font-family='"Liberation Serif", serif' font-size="7" font-weight="bold" text-anchor="end" fill="#222" stroke="#222" stroke-width="0.2">0</text>
<text x="269.2" y="241.7" font-family='"Liberation Serif", serif' font-size="7.08" font-weight="normal" text-anchor="middle" fill="#3c3c3c" transform="rotate(-90 269.2 241.7)">Signature contribution (%)</text>
<rect x="289.2" y="197.2" width="4" height="74.66" fill="#7600e8"/>
<rect x="289.2" y="271.86" width="4" height="29.04" fill="#a0108c"/>
<text x="293.2" y="337" font-family='"Liberation Serif", serif' font-size="5.9" font-weight="bold" text-anchor="start" fill="#111" stroke="#111" stroke-width="0.32" transform="rotate(-90 293.2 337)">UPN001 DX</text>
<line x1="296" y1="300.9" x2="296" y2="304.2" stroke="#111" stroke-width="0.95"/>
<rect x="298.85" y="197.2" width="4" height="49.88" fill="#7600e8"/>
<rect x="298.85" y="247.08" width="4" height="53.82" fill="#a0108c"/>
<text x="302.85" y="337" font-family='"Liberation Serif", serif' font-size="5.9" font-weight="bold" text-anchor="start" fill="#111" stroke="#111" stroke-width="0.32" transform="rotate(-90 302.85 337)">UPN001 RE1</text>
<line x1="305.65" y1="300.9" x2="305.65" y2="304.2" stroke="#111" stroke-width="0.95"/>
<rect x="308.5" y="197.2" width="4" height="31.94" fill="#7600e8"/>
<rect x="308.5" y="229.14" width="4" height="71.76" fill="#a0108c"/>
<text x="312.5" y="337" font-family='"Liberation Serif", serif' font-size="5.9" font-weight="bold" text-anchor="start" fill="#111" stroke="#111" stroke-width="0.32" transform="rotate(-90 312.5 337)">UPN002 DX</text>
<line x1="315.3" y1="300.9" x2="315.3" y2="304.2" stroke="#111" stroke-width="0.95"/>
<rect x="318.15" y="197.2" width="4" height="5.6" fill="#7600e8"/>
<rect x="318.15" y="202.8" width="4" height="98.1" fill="#a0108c"/>
<text x="322.15" y="337" font-family='"Liberation Serif", serif' font-size="5.9" font-weight="bold" text-anchor="start" fill="#111" stroke="#111" stroke-width="0.32" transform="rotate(-90 322.15 337)">UPN002 RE1</text>
<line x1="324.95" y1="300.9" x2="324.95" y2="304.2" stroke="#111" stroke-width="0.95"/>
<rect x="327.8" y="197.2" width="4" height="21.05" fill="#7600e8"/>
<rect x="327.8" y="218.25" width="4" height="82.65" fill="#a0108c"/>
<text x="331.8" y="337" font-family='"Liberation Serif", serif' font-size="5.9" font-weight="bold" text-anchor="start" fill="#111" stroke="#111" stroke-width="0.32" transform="rotate(-90 331.8 337)">UPN003 DX</text>
<line x1="334.6" y1="300.9" x2="334.6" y2="304.2" stroke="#111" stroke-width="0.95"/>
<rect x="337.45" y="197.2" width="4" height="27.9" fill="#7600e8"/>
<rect x="337.45" y="225.1" width="4" height="75.8" fill="#a0108c"/>
<text x="341.45" y="337" font-family='"Liberation Serif", serif' font-size="5.9" font-weight="bold" text-anchor="start" fill="#111" stroke="#111" stroke-width="0.32" transform="rotate(-90 341.45 337)">UPN003 RE1</text>
<line x1="344.25" y1="300.9" x2="344.25" y2="304.2" stroke="#111" stroke-width="0.95"/>
<rect x="347.1" y="197.2" width="4" height="44.28" fill="#7600e8"/>
<rect x="347.1" y="241.48" width="4" height="59.42" fill="#a0108c"/>
<text x="351.1" y="337" font-family='"Liberation Serif", serif' font-size="5.9" font-weight="bold" text-anchor="start" fill="#111" stroke="#111" stroke-width="0.32" transform="rotate(-90 351.1 337)">UPN004 DX</text>
<line x1="353.9" y1="300.9" x2="353.9" y2="304.2" stroke="#111" stroke-width="0.95"/>
<rect x="356.75" y="197.2" width="4" height="38.06" fill="#7600e8"/>
<rect x="356.75" y="235.26" width="4" height="65.64" fill="#a0108c"/>
<text x="360.75" y="337" font-family='"Liberation Serif", serif' font-size="5.9" font-weight="bold" text-anchor="start" fill="#111" stroke="#111" stroke-width="0.32" transform="rotate(-90 360.75 337)">UPN004 RE1</text>
<line x1="363.55" y1="300.9" x2="363.55" y2="304.2" stroke="#111" stroke-width="0.95"/>
<rect x="366.4" y="197.2" width="4" height="86.17" fill="#7600e8"/>
<rect x="366.4" y="283.37" width="4" height="17.53" fill="#a0108c"/>
<text x="370.4" y="337" font-family='"Liberation Serif", serif' font-size="5.9" font-weight="bold" text-anchor="start" fill="#111" stroke="#111" stroke-width="0.32" transform="rotate(-90 370.4 337)">UPN005 DX</text>
<line x1="373.2" y1="300.9" x2="373.2" y2="304.2" stroke="#111" stroke-width="0.95"/>
<rect x="376.05" y="197.2" width="4" height="75.29" fill="#7600e8"/>
<rect x="376.05" y="272.49" width="4" height="28.41" fill="#a0108c"/>
<text x="380.05" y="337" font-family='"Liberation Serif", serif' font-size="5.9" font-weight="bold" text-anchor="start" fill="#111" stroke="#111" stroke-width="0.32" transform="rotate(-90 380.05 337)">UPN005 RE1</text>
<line x1="382.85" y1="300.9" x2="382.85" y2="304.2" stroke="#111" stroke-width="0.95"/>
<rect x="385.7" y="197.2" width="4" height="80.89" fill="#7600e8"/>
<rect x="385.7" y="278.09" width="4" height="22.81" fill="#a0108c"/>
<text x="389.7" y="337" font-family='"Liberation Serif", serif' font-size="5.9" font-weight="bold" text-anchor="start" fill="#111" stroke="#111" stroke-width="0.32" transform="rotate(-90 389.7 337)">UPN006 DX</text>
<line x1="392.5" y1="300.9" x2="392.5" y2="304.2" stroke="#111" stroke-width="0.95"/>
<rect x="395.35" y="197.2" width="4" height="47.39" fill="#7600e8"/>
<rect x="395.35" y="244.59" width="4" height="56.31" fill="#a0108c"/>
<text x="399.35" y="337" font-family='"Liberation Serif", serif' font-size="5.9" font-weight="bold" text-anchor="start" fill="#111" stroke="#111" stroke-width="0.32" transform="rotate(-90 399.35 337)">UPN006 RE1</text>
<line x1="402.15" y1="300.9" x2="402.15" y2="304.2" stroke="#111" stroke-width="0.95"/>
<rect x="405" y="197.2" width="4" height="71.55" fill="#7600e8"/>
<rect x="405" y="268.75" width="4" height="32.15" fill="#a0108c"/>
<text x="409" y="337" font-family='"Liberation Serif", serif' font-size="5.9" font-weight="bold" text-anchor="start" fill="#111" stroke="#111" stroke-width="0.32" transform="rotate(-90 409 337)">UPN008 DX</text>
<line x1="411.8" y1="300.9" x2="411.8" y2="304.2" stroke="#111" stroke-width="0.95"/>
<rect x="414.65" y="197.2" width="4" height="72.8" fill="#7600e8"/>
<rect x="414.65" y="270" width="4" height="30.9" fill="#a0108c"/>
<text x="418.65" y="337" font-family='"Liberation Serif", serif' font-size="5.9" font-weight="bold" text-anchor="start" fill="#111" stroke="#111" stroke-width="0.32" transform="rotate(-90 418.65 337)">UPN008 RE1</text>
<line x1="421.45" y1="300.9" x2="421.45" y2="304.2" stroke="#111" stroke-width="0.95"/>
<rect x="424.3" y="197.2" width="4" height="69.69" fill="#7600e8"/>
<rect x="424.3" y="266.89" width="4" height="34.01" fill="#a0108c"/>
<text x="428.3" y="337" font-family='"Liberation Serif", serif' font-size="5.9" font-weight="bold" text-anchor="start" fill="#111" stroke="#111" stroke-width="0.32" transform="rotate(-90 428.3 337)">UPN009 DX</text>
<line x1="431.1" y1="300.9" x2="431.1" y2="304.2" stroke="#111" stroke-width="0.95"/>
<rect x="433.95" y="197.2" width="4" height="51.12" fill="#7600e8"/>
<rect x="433.95" y="248.32" width="4" height="52.58" fill="#a0108c"/>
<text x="437.95" y="337" font-family='"Liberation Serif", serif' font-size="5.9" font-weight="bold" text-anchor="start" fill="#111" stroke="#111" stroke-width="0.32" transform="rotate(-90 437.95 337)">UPN009 RE1</text>
<line x1="440.75" y1="300.9" x2="440.75" y2="304.2" stroke="#111" stroke-width="0.95"/>
<rect x="443.6" y="197.2" width="4" height="89.29" fill="#7600e8"/>
<rect x="443.6" y="286.49" width="4" height="14.41" fill="#a0108c"/>
<text x="447.6" y="337" font-family='"Liberation Serif", serif' font-size="5.9" font-weight="bold" text-anchor="start" fill="#111" stroke="#111" stroke-width="0.32" transform="rotate(-90 447.6 337)">UPN010 DX</text>
<line x1="450.4" y1="300.9" x2="450.4" y2="304.2" stroke="#111" stroke-width="0.95"/>
<rect x="453.25" y="197.2" width="4" height="73.83" fill="#7600e8"/>
<rect x="453.25" y="271.03" width="4" height="29.87" fill="#a0108c"/>
<text x="457.25" y="337" font-family='"Liberation Serif", serif' font-size="5.9" font-weight="bold" text-anchor="start" fill="#111" stroke="#111" stroke-width="0.32" transform="rotate(-90 457.25 337)">UPN010 RE1</text>
<line x1="460.05" y1="300.9" x2="460.05" y2="304.2" stroke="#111" stroke-width="0.95"/>
<rect x="462.9" y="197.2" width="4" height="58.28" fill="#7600e8"/>
<rect x="462.9" y="255.48" width="4" height="45.42" fill="#a0108c"/>
<text x="466.9" y="337" font-family='"Liberation Serif", serif' font-size="5.9" font-weight="bold" text-anchor="start" fill="#111" stroke="#111" stroke-width="0.32" transform="rotate(-90 466.9 337)">UPN011 DX</text>
<line x1="469.7" y1="300.9" x2="469.7" y2="304.2" stroke="#111" stroke-width="0.95"/>
<rect x="472.55" y="197.2" width="4" height="26.34" fill="#7600e8"/>
<rect x="472.55" y="223.54" width="4" height="77.36" fill="#a0108c"/>
<text x="476.55" y="337" font-family='"Liberation Serif", serif' font-size="5.9" font-weight="bold" text-anchor="start" fill="#111" stroke="#111" stroke-width="0.32" transform="rotate(-90 476.55 337)">UPN011 RE1</text>
<line x1="479.35" y1="300.9" x2="479.35" y2="304.2" stroke="#111" stroke-width="0.95"/>
<rect x="482.2" y="197.2" width="4" height="94.99" fill="#7600e8"/>
<rect x="482.2" y="292.19" width="4" height="8.71" fill="#a0108c"/>
<text x="486.2" y="337" font-family='"Liberation Serif", serif' font-size="5.9" font-weight="bold" text-anchor="start" fill="#111" stroke="#111" stroke-width="0.32" transform="rotate(-90 486.2 337)">UPN012 DX</text>
<line x1="489" y1="300.9" x2="489" y2="304.2" stroke="#111" stroke-width="0.95"/>
<rect x="491.85" y="197.2" width="4" height="80.06" fill="#7600e8"/>
<rect x="491.85" y="277.26" width="4" height="23.64" fill="#a0108c"/>
<text x="495.85" y="337" font-family='"Liberation Serif", serif' font-size="5.9" font-weight="bold" text-anchor="start" fill="#111" stroke="#111" stroke-width="0.32" transform="rotate(-90 495.85 337)">UPN012 RE1</text>
<line x1="498.65" y1="300.9" x2="498.65" y2="304.2" stroke="#111" stroke-width="0.95"/>
<rect x="501.5" y="197.2" width="4" height="96.03" fill="#7600e8"/>
<rect x="501.5" y="293.23" width="4" height="7.67" fill="#a0108c"/>
<text x="505.5" y="337" font-family='"Liberation Serif", serif' font-size="5.9" font-weight="bold" text-anchor="start" fill="#111" stroke="#111" stroke-width="0.32" transform="rotate(-90 505.5 337)">UPN013 DX</text>
<line x1="508.3" y1="300.9" x2="508.3" y2="304.2" stroke="#111" stroke-width="0.95"/>
<rect x="511.15" y="197.2" width="4" height="85.45" fill="#7600e8"/>
<rect x="511.15" y="282.65" width="4" height="18.25" fill="#a0108c"/>
<text x="515.15" y="337" font-family='"Liberation Serif", serif' font-size="5.9" font-weight="bold" text-anchor="start" fill="#111" stroke="#111" stroke-width="0.32" transform="rotate(-90 515.15 337)">UPN013 RE1</text>
<line x1="517.95" y1="300.9" x2="517.95" y2="304.2" stroke="#111" stroke-width="0.95"/>
<line x1="285" y1="300.9" x2="518.8" y2="300.9" stroke="#111" stroke-width="1.1"/>
<rect x="355.1" y="182.7" width="7" height="7.7" fill="#7600e8"/>
<rect x="420.1" y="183.1" width="6.7" height="8.1" fill="#a0108c"/>
<text x="365.9" y="188.6" font-family='"Liberation Serif", serif' font-size="7" font-weight="bold" text-anchor="start" fill="#222" stroke="#222" stroke-width="0.2">Signature 1</text>
<text x="429.8" y="188.8" font-family='"Liberation Serif", serif' font-size="7.05" font-weight="bold" text-anchor="start" fill="#222" stroke="#222" stroke-width="0.2">Signature 2</text>
</svg>
</body></html>
